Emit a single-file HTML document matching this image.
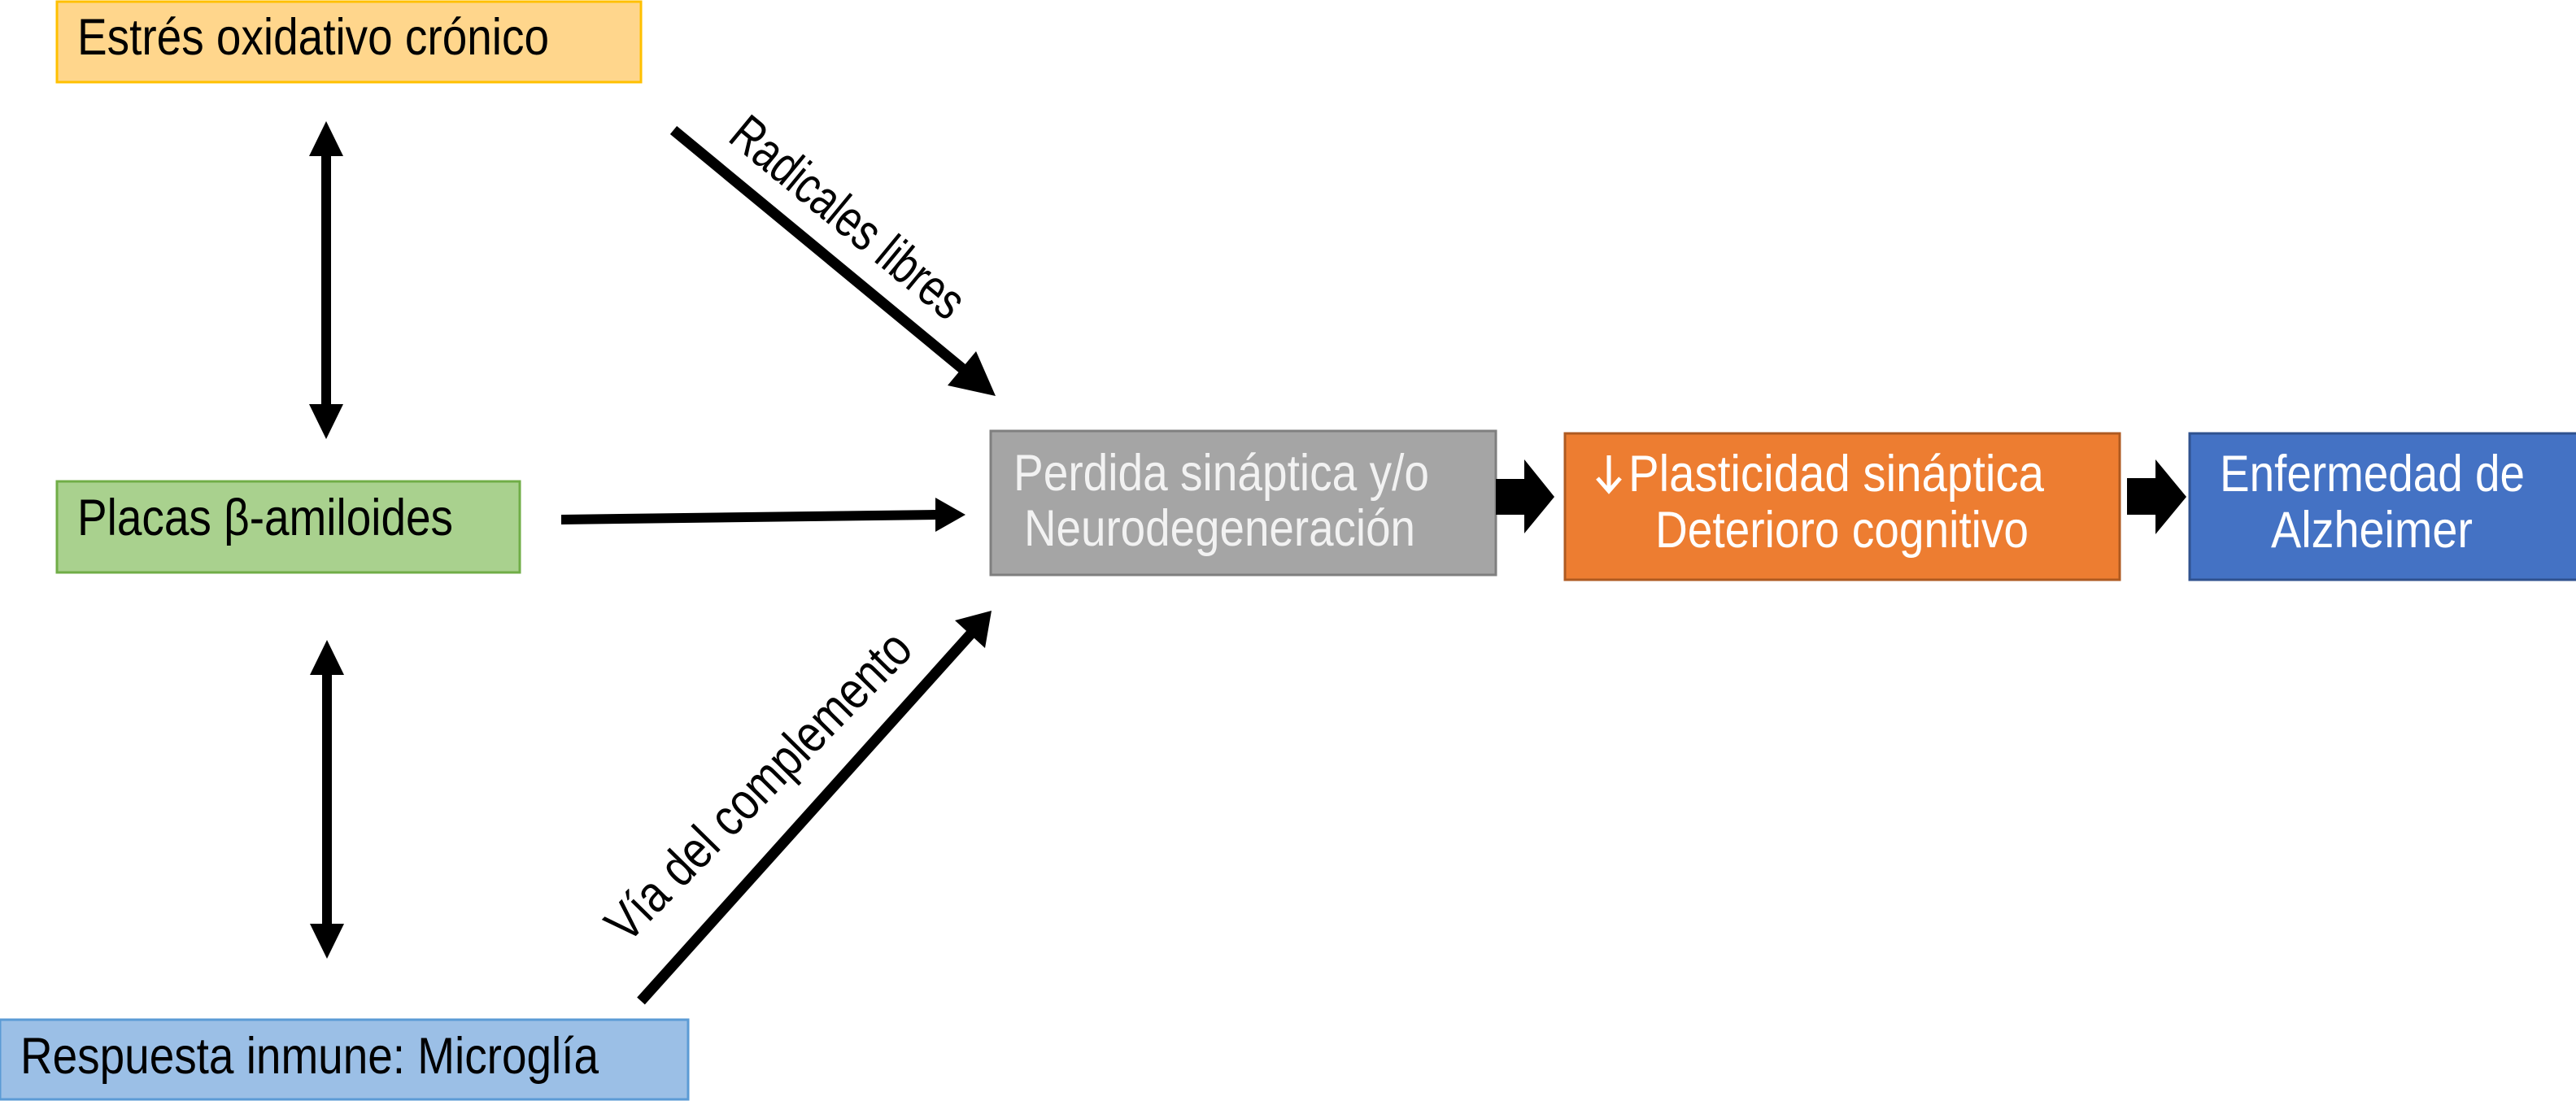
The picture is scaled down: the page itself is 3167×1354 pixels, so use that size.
<!DOCTYPE html>
<html><head><meta charset="utf-8"><style>
html,body{margin:0;padding:0;background:#fff;}
svg{display:block;}
text{font-family:"Liberation Sans",Arial,sans-serif;}
</style></head><body>
<svg width="3167" height="1354" viewBox="0 0 3167 1354" xmlns="http://www.w3.org/2000/svg">
<rect x="0" y="0" width="3167" height="1354" fill="#fff"/>
<!-- Boxes -->
<rect x="70" y="2" width="718" height="99" fill="#FFD68C" stroke="#FFC000" stroke-width="3"/>
<text x="95" y="67" font-size="63" fill="#000" textLength="580" lengthAdjust="spacingAndGlyphs">Estrés oxidativo crónico</text>

<rect x="70" y="592" width="569" height="112" fill="#A9D18E" stroke="#70AD47" stroke-width="3"/>
<text x="95" y="658" font-size="63" fill="#000" textLength="462" lengthAdjust="spacingAndGlyphs">Placas β-amiloides</text>

<rect x="0" y="1254" width="846" height="98" fill="#9BBFE6" stroke="#5B9BD5" stroke-width="3"/>
<text x="25" y="1320" font-size="63" fill="#000" textLength="711" lengthAdjust="spacingAndGlyphs">Respuesta inmune: Microglía</text>

<rect x="1218" y="530" width="621" height="177" fill="#A5A5A5" stroke="#7F7F7F" stroke-width="3"/>
<text x="1246" y="603" font-size="63" fill="#F2F2F2" textLength="511" lengthAdjust="spacingAndGlyphs">Perdida sináptica y/o</text>
<text x="1259" y="671" font-size="63" fill="#F2F2F2" textLength="481" lengthAdjust="spacingAndGlyphs">Neurodegeneración</text>

<rect x="1924" y="533" width="682" height="180" fill="#ED7D31" stroke="#AE5A21" stroke-width="3"/>
<path d="M1978,560 L1978,602 M1964,588 L1978,604 L1992,588" stroke="#fff" stroke-width="5" fill="none"/>
<text x="2002" y="604" font-size="63" fill="#fff" textLength="511" lengthAdjust="spacingAndGlyphs">Plasticidad sináptica</text>
<text x="2035" y="673" font-size="63" fill="#fff" textLength="459" lengthAdjust="spacingAndGlyphs">Deterioro cognitivo</text>

<rect x="2692" y="533" width="478" height="180" fill="#4472C4" stroke="#2F528F" stroke-width="3"/>
<text x="2729" y="604" font-size="63" fill="#fff" textLength="375" lengthAdjust="spacingAndGlyphs">Enfermedad de</text>
<text x="2792" y="673" font-size="63" fill="#fff" textLength="248" lengthAdjust="spacingAndGlyphs">Alzheimer</text>

<!-- Double arrows -->
<rect x="395" y="188" width="12" height="312" fill="#000"/>
<polygon points="401,149 380,192 422,192" fill="#000"/>
<polygon points="401,540 380,497 422,497" fill="#000"/>

<rect x="396" y="827" width="12" height="312" fill="#000"/>
<polygon points="402,787 381,830 423,830" fill="#000"/>
<polygon points="402,1179 381,1136 423,1136" fill="#000"/>

<!-- Horizontal arrow -->
<polygon points="690,633 1150,627 1150,612 1187,633 1150,654 1150,639 690,645" fill="#000"/>

<!-- Diagonal arrows -->
<line x1="828" y1="160" x2="1190" y2="459" stroke="#000" stroke-width="13"/>
<polygon points="1224,487 1165,474 1200,432" fill="#000"/>

<line x1="788" y1="1231" x2="1194" y2="779" stroke="#000" stroke-width="13"/>
<polygon points="1219,751 1174,763 1211,797" fill="#000"/>

<!-- Block arrows -->
<polygon points="1839,589 1874,589 1874,565 1911,611 1874,656 1874,633 1839,633" fill="#000"/>
<polygon points="2615,588 2650,588 2650,565 2688,611 2650,657 2650,633 2615,633" fill="#000"/>

<!-- Labels on arrows -->
<text transform="translate(893,172) rotate(39.5)" font-size="64" fill="#000" textLength="352" lengthAdjust="spacingAndGlyphs">Radicales libres</text>
<text transform="translate(771,1162) rotate(-45.5)" font-size="64" fill="#000" textLength="505" lengthAdjust="spacingAndGlyphs">Vía del complemento</text>
</svg>
</body></html>
